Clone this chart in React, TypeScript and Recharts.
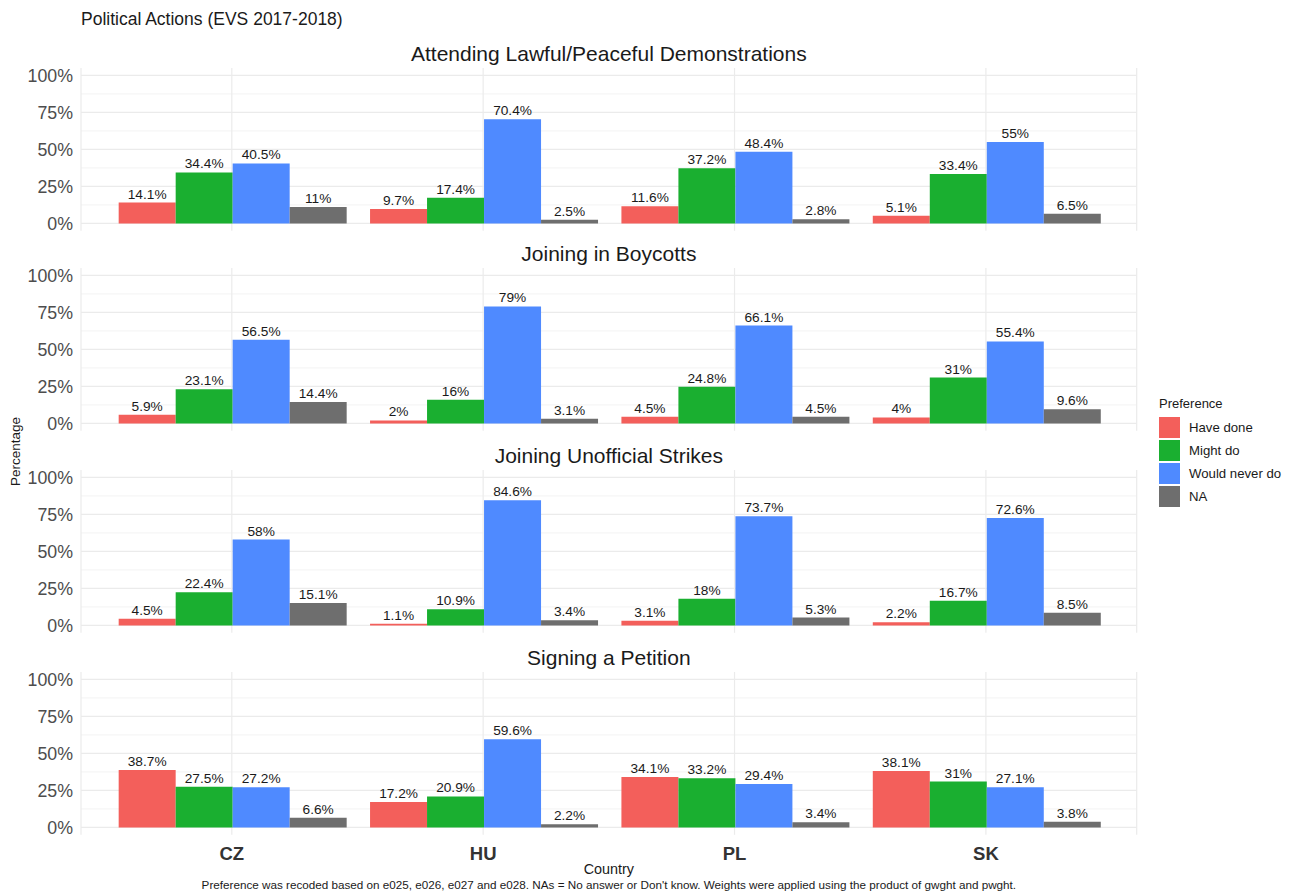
import React from 'react';
import { BarChart, Bar, XAxis, YAxis, CartesianGrid, LabelList } from 'recharts';

const countries = ['CZ', 'HU', 'PL', 'SK'];
const panelTitles = [
  'Attending Lawful/Peaceful Demonstrations',
  'Joining in Boycotts',
  'Joining Unofficial Strikes',
  'Signing a Petition',
];
const seriesNames = ['Have done', 'Might do', 'Would never do', 'NA'];
const seriesColors = ['#F35F5B', '#1AAF30', '#4F8AFF', '#6E6E6E'];

// values per panel, per country (CZ, HU, PL, SK)
const haveDone = [
  [14.1, 9.7, 11.6, 5.1],
  [5.9, 2, 4.5, 4],
  [4.5, 1.1, 3.1, 2.2],
  [38.7, 17.2, 34.1, 38.1],
];
const mightDo = [
  [34.4, 17.4, 37.2, 33.4],
  [23.1, 16, 24.8, 31],
  [22.4, 10.9, 18, 16.7],
  [27.5, 20.9, 33.2, 31],
];
const neverDo = [
  [40.5, 70.4, 48.4, 55],
  [56.5, 79, 66.1, 55.4],
  [58, 84.6, 73.7, 72.6],
  [27.2, 59.6, 29.4, 27.1],
];
const naVals = [
  [11, 2.5, 2.8, 6.5],
  [14.4, 3.1, 4.5, 9.6],
  [15.1, 3.4, 5.3, 8.5],
  [6.6, 2.2, 3.4, 3.8],
];

const yTicks = [0, 25, 50, 75, 100];
const yMinor = [12.5, 37.5, 62.5, 87.5];

const FONT = '"Liberation Sans", Arial, Helvetica, sans-serif';
const seriesKeys = ['have', 'might', 'never', 'na'];

const PLOT_LEFT = 81;
const PLOT_RIGHT = 1136.7;
const CHART_W = 1160;
const PANEL_H = 162.8; // -5..105
const TOP_PAD = 12;
const panelTops = [67.6, 268.3, 470, 671.6];

function buildData(p: number) {
  return countries.map((c, i) => ({
    country: c,
    have: haveDone[p][i],
    might: mightDo[p][i],
    never: neverDo[p][i],
    na: naVals[p][i],
  }));
}

function Panel({ p }: { p: number }) {
  const isLast = p === 3;
  const xH = isLast ? 36 : 0;
  const h = TOP_PAD + PANEL_H + (isLast ? xH : 4);
  return (
    <div style={{ position: 'absolute', left: 0, top: panelTops[p] - TOP_PAD }}>
      <BarChart
        width={CHART_W}
        height={h}
        data={buildData(p)}
        margin={{ top: TOP_PAD, right: CHART_W - PLOT_RIGHT, bottom: isLast ? 0 : 4, left: 0 }}
        barCategoryGap="5%"
        barGap={0}
      >
        <CartesianGrid horizontal={true} vertical={false} horizontalValues={yMinor} stroke="#F0F0F0" strokeWidth={0.8} />
        <CartesianGrid horizontal={true} vertical={true} horizontalValues={yTicks} stroke="#EBEBEB" strokeWidth={1.2} />
        <XAxis
          dataKey="country"
          type="category"
          hide={!isLast}
          height={xH}
          padding={{ left: 25.1, right: 25.1 }}
          axisLine={false}
          tickLine={false}
          tickSize={0}
          tickMargin={12}
          tick={{ fontSize: 18.5, fontWeight: 'bold', fill: '#333333', fontFamily: FONT }}
        />
        <YAxis
          type="number"
          domain={[-5, 105]}
          ticks={yTicks}
          allowDataOverflow
          width={PLOT_LEFT}
          axisLine={false}
          tickLine={false}
          tickSize={0}
          tickMargin={8}
          tickFormatter={(v: number) => `${v}%`}
          tick={{ fontSize: 17.8, fill: '#4D4D4D', fontFamily: FONT }}
        />
        {seriesKeys.map((k, si) => (
          <Bar key={k} dataKey={k} fill={seriesColors[si]} isAnimationActive={false}>
            <LabelList
              dataKey={k}
              position="top"
              offset={4}
              formatter={(v: number) => `${v}%`}
              style={{ fontSize: 13.7, fill: '#1A1A1A', fontFamily: FONT }}
            />
          </Bar>
        ))}
      </BarChart>
    </div>
  );
}

export default function App() {
  const center = (PLOT_LEFT + PLOT_RIGHT) / 2;
  return (
    <div
      style={{
        position: 'absolute',
        left: 0,
        top: 0,
        width: 1295,
        height: 896,
        background: '#ffffff',
        fontFamily: FONT,
        color: '#000',
        overflow: 'hidden',
      }}
    >
      <div style={{ position: 'absolute', left: 81, top: 9, fontSize: 17.5, color: '#1A1A1A', whiteSpace: 'nowrap' }}>
        Political Actions (EVS 2017-2018)
      </div>
      {panelTitles.map((t, p) => (
        <div
          key={t}
          style={{
            position: 'absolute',
            left: center - 400,
            width: 800,
            textAlign: 'center',
            top: panelTops[p] - 26,
            fontSize: 21,
            color: '#1A1A1A',
            whiteSpace: 'nowrap',
          }}
        >
          {t}
        </div>
      ))}
      {panelTitles.map((t, p) => (
        <Panel key={'p' + p} p={p} />
      ))}
      <div
        style={{
          position: 'absolute',
          left: 15 - 50,
          top: 452 - 8,
          width: 100,
          textAlign: 'center',
          fontSize: 13.5,
          color: '#1A1A1A',
          transform: 'rotate(-90deg)',
        }}
      >
        Percentage
      </div>
      <div
        style={{
          position: 'absolute',
          left: center - 100,
          width: 200,
          top: 861,
          textAlign: 'center',
          fontSize: 14.4,
          color: '#1A1A1A',
        }}
      >
        Country
      </div>
      <div
        style={{
          position: 'absolute',
          left: center - 500,
          width: 1000,
          top: 878,
          textAlign: 'center',
          fontSize: 11.7,
          color: '#1A1A1A',
          whiteSpace: 'nowrap',
        }}
      >
        Preference was recoded based on e025, e026, e027 and e028. NAs = No answer or Don't know. Weights were applied using the product of gwght and pwght.
      </div>
      <div style={{ position: 'absolute', left: 1159, top: 396, fontSize: 13, color: '#1A1A1A' }}>Preference</div>
      {seriesNames.map((n, i) => (
        <div key={n} style={{ position: 'absolute', left: 1159, top: 416 + i * 23, height: 22, display: 'flex', alignItems: 'center' }}>
          <div style={{ width: 21, height: 21, background: seriesColors[i] }} />
          <div style={{ marginLeft: 9, fontSize: 13.2, color: '#1A1A1A', whiteSpace: 'nowrap' }}>{n}</div>
        </div>
      ))}
    </div>
  );
}
